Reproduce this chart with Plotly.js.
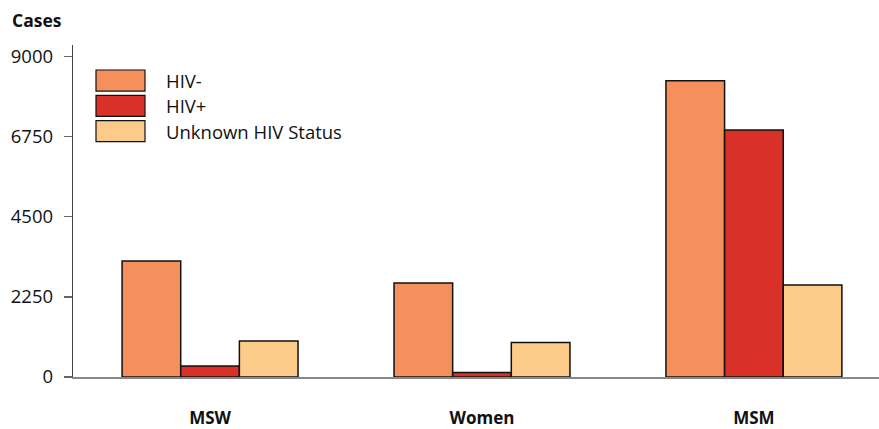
<!DOCTYPE html>
<html>
<head>
<meta charset="utf-8">
<script src="https://cdn.plot.ly/plotly-3.0.1.min.js"></script>
<style>html,body{margin:0;padding:0;background:#fff;}#chart{width:879px;height:429px;}</style>
</head>
<body>
<div id="chart"></div>
<script>
const categories = ['MSW', 'Women', 'MSM'];
const seriesNames = ['HIV-', 'HIV+', 'Unknown HIV Status'];
const hivNeg = [3262, 2644, 8325];
const hivPos = [309, 124, 6938];
const hivUnknown = [1012, 967, 2588];
const seriesColors = ['#F5905C', '#D93027', '#FDCB89'];
const yTicks = [0, 2250, 4500, 6750, 9000];
const yTitle = 'Cases';

const FONT = 'Open Sans, Noto Sans, DejaVu Sans, sans-serif';
const values = [hivNeg, hivPos, hivUnknown];

const traces = values.map((v, i) => ({
  type: 'bar',
  x: categories,
  y: v,
  name: seriesNames[i],
  marker: {color: seriesColors[i], line: {color: '#111', width: 1.5}},
  showlegend: false,
  hoverinfo: 'x+y+name'
}));

// custom legend (large swatches) built from the series arrays
const shapes = [];
const annotations = [];
const legX0 = 96, legW = 49, legH = 21, legY0 = 80.5, legStep = 25.3, W = 879, H = 429;
seriesNames.forEach((n, i) => {
  const cy = legY0 + i * legStep;
  shapes.push({
    type: 'rect', xref: 'paper', yref: 'paper', layer: 'above',
    x0: (legX0 - 73) / (W - 73), x1: (legX0 + legW - 73) / (W - 73),
    y0: (376.7 - (cy - legH / 2)) / (376.7 - 45), y1: (376.7 - (cy + legH / 2)) / (376.7 - 45),
    fillcolor: seriesColors[i], line: {color: '#111', width: 1.2}
  });
  annotations.push({
    xref: 'paper', yref: 'paper', showarrow: false,
    x: (164 - 73) / (W - 73), xanchor: 'left',
    y: (376.7 - cy) / (376.7 - 45), yanchor: 'middle',
    text: n, font: {family: FONT, size: 18.5, color: '#111'}
  });
});
annotations.push({
  xref: 'paper', yref: 'paper', showarrow: false,
  x: (10 - 73) / (W - 73), xanchor: 'left',
  y: (376.7 - 20) / (376.7 - 45), yanchor: 'middle',
  text: '<b>' + yTitle + '</b>', font: {family: FONT, size: 17.5, color: '#111'}
});

const layout = {
  width: W, height: H,
  margin: {l: 73, r: 0, t: 45, b: 52.3, pad: 0},
  paper_bgcolor: '#fff', plot_bgcolor: '#fff',
  barmode: 'group', bargap: 0.353, bargroupgap: 0,
  font: {family: FONT, color: '#111'},
  xaxis: {
    type: 'category', range: [-0.504, 2.46],
    showgrid: false, zeroline: false,
    showline: true, linecolor: '#888', linewidth: 2,
    ticks: '', ticklabelstandoff: 25,
    tickfont: {family: FONT, size: 17, color: '#111', weight: 'bold'}
  },
  yaxis: {
    range: [0, 9330], tickvals: yTicks, ticktext: yTicks.map(String),
    showgrid: false, zeroline: false,
    showline: true, linecolor: '#444', linewidth: 1.2,
    ticks: 'outside', ticklen: 8, tickcolor: '#666', tickwidth: 1.2,
    ticklabelstandoff: 7,
    tickfont: {family: FONT, size: 18.5, color: '#111'}
  },
  shapes: shapes,
  annotations: annotations
};

Plotly.newPlot('chart', traces, layout, {displayModeBar: false, staticPlot: true});
</script>
</body>
</html>
